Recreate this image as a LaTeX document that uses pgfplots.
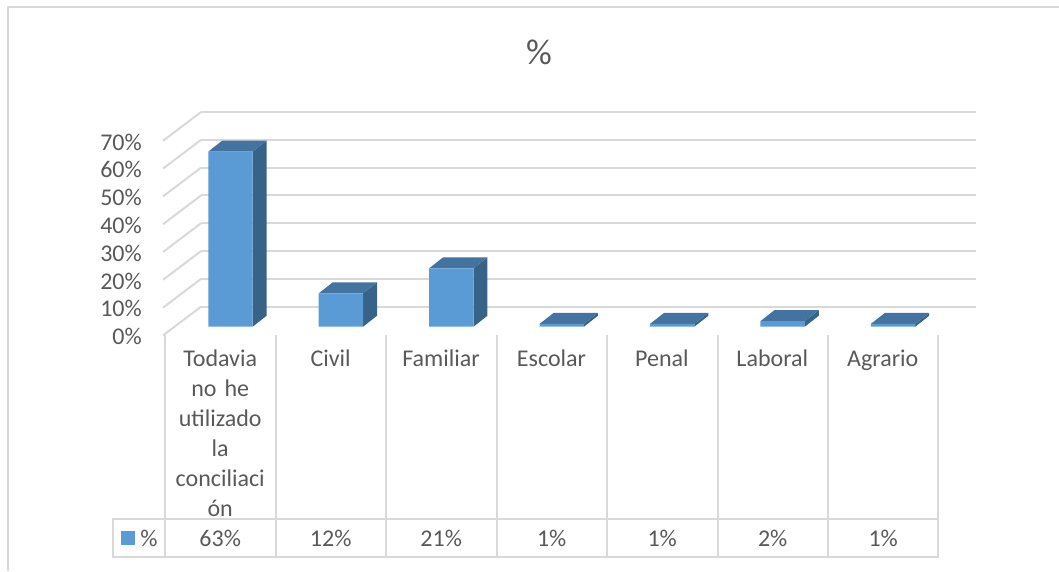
\documentclass[border=0pt]{standalone}
\usepackage{fontspec}
\setmainfont{Carlito}
\usepackage{pgfplots}
\pgfplotsset{compat=1.18}

\definecolor{barfront}{HTML}{5B9BD5}
\definecolor{bartop}{HTML}{44739F}
\definecolor{barside}{HTML}{376388}
\definecolor{gridgray}{HTML}{D9D9D9}
\definecolor{textgray}{HTML}{595959}

% top and side faces of one bar: x index, value (depth 14px/11px in axis units)
\newcommand\barfaces[2]{%
  \pgfmathsetmacro\xl{#1+0.0928-0.2009}
  \pgfmathsetmacro\xr{#1+0.0928+0.2009}
  \pgfmathsetmacro\xlb{\xl+0.1267}
  \pgfmathsetmacro\xrb{\xr+0.1267}
  \pgfmathsetmacro\yt{#2+3.957}
  \addplot[fill=barside,draw=none] coordinates {(\xr,0) (\xrb,3.957) (\xrb,\yt) (\xr,#2)} -- cycle;
  \addplot[fill=bartop,draw=none] coordinates {(\xl,#2) (\xr,#2) (\xrb,\yt) (\xlb,\yt)} -- cycle;
}

\begin{document}
\begin{tikzpicture}[x=0.75pt,y=-0.75pt,font=\fontsize{18}{22.5}\selectfont,text=textgray]
\path[use as bounding box] (0,0) rectangle (1059,571);

% chart frame
\draw[gridgray,line width=1.5pt] (8,571) -- (8,6.5) -- (1059,6.5);
\node at (539,52) {\fontsize{27}{30}\selectfont\%};

\coordinate (wall) at (201,306.7);
\coordinate (bars) at (165,326.7);

% back wall, gridlines and the y labels
\begin{axis}[
  at={(wall)},anchor=south west,
  scale only axis,width=581.5pt,height=146pt,
  xmin=0,xmax=7.03,ymin=0,ymax=70,
  clip=false,
  axis line style={draw=none},
  major tick length=0pt,
  xtick=\empty,
  ytick={0,10,20,30,40,50,60,70},
  yticklabels={0\%,10\%,20\%,30\%,40\%,50\%,60\%,70\%},
  yticklabel style={xshift=-44.25pt,yshift=-22.5pt,inner sep=0pt,anchor=east,text=textgray},
  ymajorgrids,
  grid style={gridgray,line width=1.5pt},
]
\pgfplotsinvokeforeach{0,10,20,30,40,50,60,70}{
  \addplot[gridgray,line width=1.5pt] coordinates {(0,#1) (-0.344,#1-10.32)};
}
\end{axis}

% bars
\begin{axis}[
  at={(bars)},anchor=south west,
  scale only axis,width=579.75pt,height=145.95pt,
  xmin=-0.5,xmax=6.5,ymin=0,ymax=70,
  clip=false,
  axis line style={draw=none},
  major tick length=0pt,
  ytick=\empty,
  xtick={0,1,2,3,4,5,6},
  xticklabels={{Todavia\\no he\\utilizado\\la\\conciliaci\\ón},Civil,Familiar,Escolar,Penal,Laboral,Agrario},
  xticklabel style={align=center,anchor=north,text width=100pt,yshift=-13.75pt,text=textgray},
]
\barfaces{0}{63}
\barfaces{1}{12}
\barfaces{2}{21}
\barfaces{3}{1}
\barfaces{4}{1}
\barfaces{5}{2}
\barfaces{6}{1}
\addplot[ybar,bar width=33.3pt,bar shift=7.7pt,fill=barfront,draw=none]
  coordinates {(0,63) (1,12) (2,21) (3,1) (4,1) (5,2) (6,1)};
\end{axis}

% data table
\draw[gridgray,line width=1.5pt] (113,519) rectangle (938,557);
\foreach \x in {165,275.5,386,496.5,607,717.5,828,938}
  \draw[gridgray,line width=1.5pt] (\x,335) -- (\x,557);
\fill[barfront] (121,531) rectangle (135,545);
\node at (149,538) {\%};
\foreach \x/\t in {220.2/63,330.7/12,441.2/21,551.7/1,662.2/1,772.7/2,883.2/1}
  \node at (\x,538) {\t\%};
\end{tikzpicture}
\end{document}
